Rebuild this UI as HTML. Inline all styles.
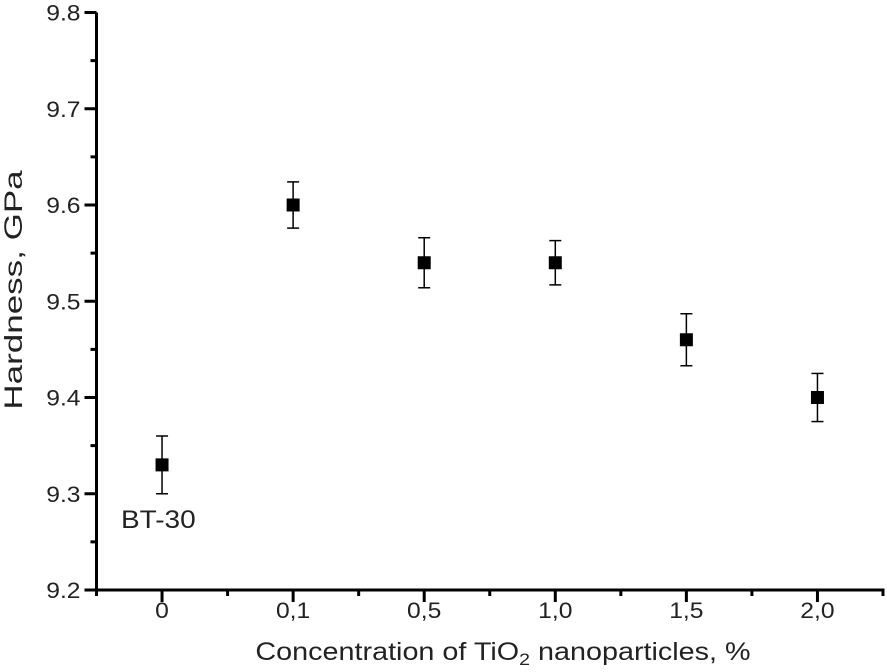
<!DOCTYPE html>
<html><head><meta charset="utf-8"><style>
body{margin:0;background:#fff}
svg text{font-family:"Liberation Sans",sans-serif;fill:#222}
</style></head><body>
<svg id="chart" width="887" height="667" xmlns="http://www.w3.org/2000/svg"></svg>
<script>
const categories=["0","0,1","0,5","1,0","1,5","2,0"];
const values=[9.33,9.60,9.54,9.54,9.46,9.40];
const errors=[0.03,0.024,0.026,0.023,0.027,0.025];
const yTicks=[9.2,9.3,9.4,9.5,9.6,9.7,9.8];
const NS="http://www.w3.org/2000/svg";
const svg=document.getElementById('chart');
const x0=96.5,x1=883,yTop=12.5,yBot=590;
const step=(x1-x0)/(categories.length);
function xs(i){return x0+step*(i+0.5);}
function ys(v){return yBot-(v-9.2)/(0.6)*(yBot-yTop);}
function mk(t,a,p){const e=document.createElementNS(NS,t);for(const k in a)e.setAttribute(k,a[k]);(p||svg).appendChild(e);return e;}
function stretch(t,f){const w=t.getComputedTextLength();t.setAttribute('textLength',w*f);t.setAttribute('lengthAdjust','spacingAndGlyphs');}
const gAx=mk('g',{stroke:'#000','stroke-width':3});


mk('line',{x1:x0,y1:yTop,x2:x0,y2:yBot+1.5},gAx);
mk('line',{x1:x0-1.5,y1:yBot,x2:x1+1.5,y2:yBot},gAx);
yTicks.forEach((v,i)=>{
  const y=ys(v);
  mk('line',{x1:x0-12,y1:y,x2:x0,y2:y},gAx);
  if(i<yTicks.length-1){const ym=ys(v+0.05);mk('line',{x1:x0-6,y1:ym,x2:x0,y2:ym},gAx);}
  const t=mk('text',{x:x0-16,y:y+8,'text-anchor':'end','font-size':22});
  
  
  t.textContent=v.toFixed(1);
  stretch(t,1.12);
});
for(let i=0;i<=categories.length;i++){
  const xm=x0+step*i;mk('line',{x1:xm,y1:yBot,x2:xm,y2:yBot+6},gAx);
}
categories.forEach((c,i)=>{
  const x=xs(i);
  mk('line',{x1:x,y1:yBot,x2:x,y2:yBot+12},gAx);
  const t=mk('text',{x:x,y:yBot+28,'text-anchor':'middle','font-size':22});
  
  
  t.textContent=c;
  stretch(t,1.12);
});
values.forEach((v,i)=>{
  const g=mk('g',{});
  
  
  const x=xs(i),yt=ys(v+errors[i]),yb=ys(v-errors[i]);
  mk('line',{x1:x,y1:yt,x2:x,y2:yb,stroke:'#000','stroke-width':1.5},g);
  mk('line',{x1:x-6,y1:yt,x2:x+6,y2:yt,stroke:'#000','stroke-width':1.5},g);
  mk('line',{x1:x-6,y1:yb,x2:x+6,y2:yb,stroke:'#000','stroke-width':1.5},g);
  mk('rect',{x:x-6.5,y:ys(v)-6.5,width:13,height:13,fill:'#000'},g);
});
let t=mk('text',{x:121,y:528,'font-size':25});


t.textContent='BT-30';
stretch(t,1.12);
t=mk('text',{x:22,y:290,'font-size':25,'text-anchor':'middle',transform:'rotate(-90 22 290)'});


t.textContent='Hardness, GPa';
stretch(t,1.4);
t=mk('text',{x:503,y:660,'font-size':25,'text-anchor':'middle'});


t.innerHTML='Concentration of TiO<tspan font-size="17" dy="5">2</tspan><tspan dy="-5"> nanoparticles, %</tspan>';
stretch(t,1.15);
</script>
</body></html>
